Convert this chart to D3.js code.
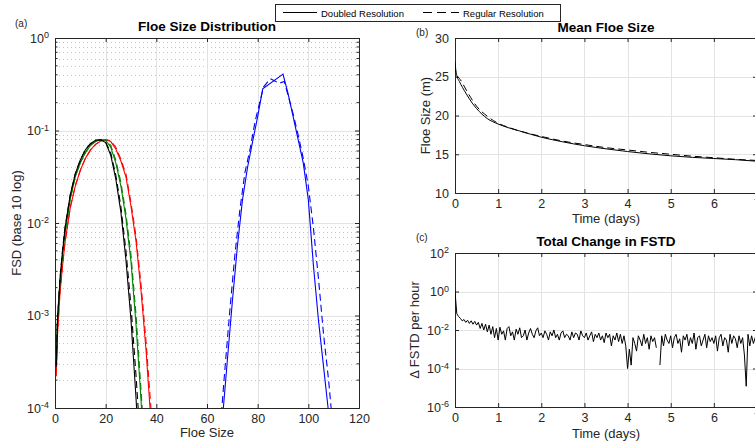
<!DOCTYPE html>
<html>
<head>
<meta charset="utf-8">
<script src="https://cdn.jsdelivr.net/npm/d3@7"></script>
<style>
  body { margin: 0; background: #fff; }
  svg { font-family: "Liberation Sans", Arial, sans-serif; }
</style>
</head>
<body>
<div id="chart"></div>
<script>
// ---- panel (a): floe size distribution ----
var sizeSmall = [0.5, 1, 2, 3, 4, 6, 8, 10, 12, 14, 16, 18, 20, 22, 24, 26, 28, 30, 32, 34, 36, 38, 40];
var fsdBlack = [2.8e-4, 8.9e-4, 2.5e-3, 5.0e-3, 8.9e-3, 0.020, 0.034, 0.048, 0.062, 0.072, 0.0785, 0.0794, 0.074, 0.054, 0.030, 0.0132, 0.0040, 8.9e-4, 1.26e-4, 1.3e-5, null, null, null];
var fsdBlackReg = [3.0e-4, 9.5e-4, 2.6e-3, 5.2e-3, 9.1e-3, 0.020, 0.034, 0.048, 0.062, 0.072, 0.0785, 0.0794, 0.075, 0.0575, 0.033, 0.0151, 0.0050, 1.26e-3, 2.2e-4, 3.2e-5, null, null, null];
var fsdGreen = [3.2e-4, 8.9e-4, 2.3e-3, 4.6e-3, 7.9e-3, 0.018, 0.0316, 0.0447, 0.0575, 0.069, 0.0759, 0.0794, 0.0785, 0.066, 0.0447, 0.0251, 0.0112, 3.8e-3, 7.9e-4, 1.17e-4, 1.26e-5, null, null];
var fsdGreenReg = [3.3e-4, 9.1e-4, 2.4e-3, 4.7e-3, 8.1e-3, 0.0182, 0.032, 0.045, 0.058, 0.0695, 0.076, 0.0794, 0.079, 0.069, 0.0479, 0.0275, 0.0126, 4.5e-3, 1.0e-3, 1.5e-4, 2.0e-5, null, null];
var fsdRed = [2.2e-4, 6.3e-4, 1.8e-3, 3.5e-3, 6.3e-3, 0.0145, 0.0251, 0.0372, 0.050, 0.0617, 0.0708, 0.0767, 0.0794, 0.0759, 0.063, 0.0468, 0.0316, 0.0151, 6.3e-3, 1.8e-3, 4.0e-4, 6.3e-5, 1.0e-5];
var fsdRedReg = [2.5e-4, 6.6e-4, 1.85e-3, 3.6e-3, 6.4e-3, 0.0146, 0.0252, 0.0372, 0.050, 0.0617, 0.0708, 0.0767, 0.0794, 0.0776, 0.066, 0.049, 0.0339, 0.0166, 7.1e-3, 2.1e-3, 5.0e-4, 8.9e-5, 1.26e-5];

var sizeBlue = [66, 68, 70, 72, 74, 76, 78, 80, 82, 90, 92, 94, 96, 98, 100, 102, 104, 106, 108];
var fsdBlue = [7.1e-5, 3.2e-4, 1.41e-3, 5.6e-3, 0.0178, 0.0398, 0.0759, 0.141, 0.282, 0.407, 0.251, 0.141, 0.0794, 0.0447, 0.0178, 3.5e-3, 8.9e-4, 2.8e-4, 8.9e-5];
var sizeBlueReg = [65, 67, 69, 71, 73, 75, 77, 79, 82.3, 85, 88.5, 90.5, 92, 94, 96, 98, 100, 102, 104, 106, 108, 110];
var fsdBlueReg = [5.0e-5, 2.5e-4, 1.12e-3, 4.5e-3, 0.0141, 0.0355, 0.063, 0.126, 0.295, 0.363, 0.324, 0.339, 0.240, 0.151, 0.0891, 0.0501, 0.0251, 8.9e-3, 2.5e-3, 6.3e-4, 2.0e-4, 5.0e-5];

// ---- panel (b): mean floe size ----
var timeMean = [0, 0.02, 0.05, 0.1, 0.25, 0.4, 0.5, 0.75, 1, 1.25, 1.5, 2, 2.5, 3, 3.5, 4, 4.5, 5, 5.5, 6, 6.5, 7];
var meanDoubled = [27, 25.8, 25.0, 24.4, 22.9, 21.6, 20.9, 19.6, 18.9, 18.4, 18.0, 17.2, 16.6, 16.1, 15.7, 15.35, 15.05, 14.8, 14.6, 14.45, 14.3, 14.1];
var meanRegular = [26.5, 25.5, 25.1, 24.8, 23.4, 22.0, 21.2, 19.9, 19.0, 18.45, 18.0, 17.3, 16.7, 16.25, 15.85, 15.55, 15.25, 15.0, 14.75, 14.55, 14.35, 14.2];

// ---- panel (c): hourly total change in FSTD (null = not drawn) ----
var fstdChange = [
  1.0, 0.07, 0.05, 0.04, 0.03, 0.035, 0.025, 0.032, 0.022, 0.03, 0.02, 0.028, 0.018, 0.025, 0.012, 0.022, 0.01, 0.02, 0.008, 0.018, 0.006, 0.015, 0.004, 0.012,
  0.003, 0.014, 0.006, 0.009, 0.003, 0.012, 0.015, 0.005, 0.008, 0.003, 0.011, 0.006, 0.013, 0.004, 0.005, 0.01, 0.003, 0.007, 0.012, 0.006, 0.004, 0.009, 0.013, 0.005,
  0.007, 0.004, 0.009, 0.006, 0.003, 0.008, 0.005, 0.01, 0.004, 0.006, 0.003, 0.007, 0.009, 0.004, 0.006, 0.005, 0.003, 0.008, 0.004, 0.007, 0.006, 0.003, 0.009, 0.005,
  0.004, 0.007, 0.003, 0.005, 0.008, 0.0025, 0.006, 0.004, 0.007, 0.003, 0.005, 0.0022, 0.007, 0.004, 0.006, 0.0015, 0.005, 0.003, 0.007, 0.0025, 0.006, 0.002, 0.005, 0.0015,
  1e-4, 0.001, 1.5e-4, 0.004, 0.002, 0.0008, 0.005, 0.003, 0.0015, 0.006, 0.002, 0.004, 0.001, 0.005, 0.0025, 0.004, 0.0012, null, 1.5e-4, 0.005, 0.0015, 0.006, 0.003, 0.002,
  0.005, 0.0012, 0.004, 0.006, 0.002, 0.0035, 0.0007, 0.005, 0.003, 0.006, 0.0015, 0.004, 0.002, 0.007, 0.001, 0.004, 0.005, 0.0015, 0.003, 0.006, 0.0012, 0.005, 0.0025, 0.004,
  0.002, 0.005, 0.0008, 0.004, 0.006, 0.0015, 0.004, 0.003, 0.0007, 0.006, 0.002, 0.005, 0.0035, 0.0012, 0.005, 0.002, 0.004, 0.0005, 1.2e-5, 0.006, 0.0015, 0.005, 0.002, 0.004, 0.003
];

var sizeTicks = [0, 20, 40, 60, 80, 100, 120];
var fsdTicks = [1e-4, 1e-3, 1e-2, 1e-1, 1];
var dayTicks = [0, 1, 2, 3, 4, 5, 6, 7];
var meanTicks = [10, 15, 20, 25, 30];
var changeTicks = [1e-6, 1e-4, 1e-2, 1, 100];

var width = 755;
var height = 443;
var axisColor = "#262626";
var gridColor = "#e3e3e3";

var svg = d3.select("#chart").append("svg")
  .attr("width", width)
  .attr("height", height);

/**
 * Draws the box, grid, inward ticks and labels of one MATLAB style axes
 */
function drawFrame(g, x, y, xTicks, yTicks, logY, minorY) {
  var x0 = x.range()[0], x1 = x.range()[1];
  var y0 = y.range()[0], y1 = y.range()[1];

  // minor dotted grid
  if (minorY) {
    g.append("g").selectAll("line")
      .data(minorY)
      .enter().append("line")
      .attr("x1", x0).attr("x2", x1)
      .attr("y1", d => Math.round(y(d)) + 0.5)
      .attr("y2", d => Math.round(y(d)) + 0.5)
      .attr("stroke", "#c4c4c4")
      .attr("stroke-dasharray", "1,3");
  }
  // major grid
  g.append("g").selectAll("line")
    .data(xTicks.slice(1, -1))
    .enter().append("line")
    .attr("x1", d => Math.round(x(d)) + 0.5).attr("x2", d => Math.round(x(d)) + 0.5)
    .attr("y1", y0).attr("y2", y1)
    .attr("stroke", gridColor);
  g.append("g").selectAll("line")
    .data(yTicks.slice(1, -1))
    .enter().append("line")
    .attr("x1", x0).attr("x2", x1)
    .attr("y1", d => Math.round(y(d)) + 0.5).attr("y2", d => Math.round(y(d)) + 0.5)
    .attr("stroke", gridColor);

  var bottom = g.append("g")
    .attr("transform", "translate(0," + y0 + ")")
    .call(d3.axisBottom(x).tickValues(xTicks).tickSize(-4).tickPadding(6).tickFormat(d3.format("d")));
  var top = g.append("g")
    .attr("transform", "translate(0," + y1 + ")")
    .call(d3.axisTop(x).tickValues(xTicks).tickSize(-4).tickFormat(""));
  var left = g.append("g")
    .attr("transform", "translate(" + x0 + ",0)")
    .call(d3.axisLeft(y).tickValues(yTicks).tickSize(-4).tickPadding(6));
  var right = g.append("g")
    .attr("transform", "translate(" + x1 + ",0)")
    .call(d3.axisRight(y).tickValues(yTicks).tickSize(-4).tickFormat(""));

  [bottom, top, left, right].forEach(function(a) {
    a.select(".domain").attr("stroke", axisColor);
    a.selectAll(".tick line").attr("stroke", axisColor);
    a.selectAll("text").attr("fill", axisColor).attr("font-size", 12.5)
      .attr("font-family", "Liberation Sans, Arial, sans-serif");
  });

  if (minorY) {
    [[x0, 1], [x1, -1]].forEach(function(s) {
      g.append("g").selectAll("line")
        .data(minorY)
        .enter().append("line")
        .attr("x1", s[0]).attr("x2", s[0] + s[1] * 2.5)
        .attr("y1", d => y(d)).attr("y2", d => y(d))
        .attr("stroke", axisColor);
    });
  }

  if (logY) {
    left.selectAll(".tick text").each(function(d) {
      var t = d3.select(this).text(null);
      t.append("tspan").text("10");
      t.append("tspan").attr("dy", "-0.5em").attr("font-size", "0.72em")
        .text(String(Math.round(Math.log10(d))));
    });
  }
}

function addClip(id, x, y) {
  svg.append("clipPath").attr("id", id).append("rect")
    .attr("x", x.range()[0]).attr("y", y.range()[1])
    .attr("width", x.range()[1] - x.range()[0])
    .attr("height", y.range()[0] - y.range()[1]);
}

function addText(txt, x, y, size, opts) {
  opts = opts || {};
  var t = svg.append("text")
    .attr("x", x).attr("y", y)
    .attr("font-size", size)
    .attr("fill", opts.fill || axisColor)
    .attr("text-anchor", opts.anchor || "middle")
    .attr("font-weight", opts.bold ? "bold" : null)
    .text(txt);
  if (opts.rotate) t.attr("transform", "rotate(-90," + x + "," + y + ")");
  return t;
}

// ---- panel (a) ----
var xA = d3.scaleLinear().domain([0, 120]).range([55, 359]);
var yA = d3.scaleLog().domain([1e-4, 1]).range([408, 38]);
var minorA = [];
[1e-4, 1e-3, 1e-2, 1e-1].forEach(function(dec) {
  for (var k = 2; k <= 9; k++) minorA.push(dec * k);
});
var gA = svg.append("g");
drawFrame(gA, xA, yA, sizeTicks, fsdTicks, true, minorA);
addClip("clipA", xA, yA);

var lineA = d3.line()
  .defined(d => d[1] != null)
  .x(d => xA(d[0]))
  .y(d => yA(d[1]));

var curvesA = [
  {xs: sizeSmall, ys: fsdRed, color: "#ff0000", dash: null},
  {xs: sizeSmall, ys: fsdRedReg, color: "#ff0000", dash: "7,4"},
  {xs: sizeSmall, ys: fsdGreen, color: "#008000", dash: null},
  {xs: sizeSmall, ys: fsdGreenReg, color: "#008000", dash: "7,4"},
  {xs: sizeSmall, ys: fsdBlack, color: "#000000", dash: null},
  {xs: sizeSmall, ys: fsdBlackReg, color: "#000000", dash: "7,4"},
  {xs: sizeBlue, ys: fsdBlue, color: "#0000ff", dash: null},
  {xs: sizeBlueReg, ys: fsdBlueReg, color: "#0000ff", dash: "7,4"}
];
var plotA = svg.append("g").attr("clip-path", "url(#clipA)");
plotA.selectAll("path")
  .data(curvesA)
  .enter().append("path")
  .attr("d", c => lineA(c.xs.map((v, i) => [v, c.ys[i]])))
  .attr("fill", "none")
  .attr("stroke", c => c.color)
  .attr("stroke-width", 1.1)
  .attr("stroke-dasharray", c => c.dash);

addText("Floe Size Distribution", 207, 31, 13.5, {bold: true, fill: "#000"});
addText("Floe Size", 207, 437, 13);
addText("FSD (base 10 log)", 21, 223, 13, {rotate: true});
addText("(a)", 15, 27, 10, {anchor: "start"});

// ---- panel (b) ----
var xB = d3.scaleLinear().domain([0, 7]).range([455, 757]);
var yB = d3.scaleLinear().domain([10, 30]).range([193, 38]);
var gB = svg.append("g");
drawFrame(gB, xB, yB, dayTicks, meanTicks, false, null);
addClip("clipB", xB, yB);

var lineB = d3.line()
  .x((d, i) => xB(timeMean[i]))
  .y(d => yB(d))
  .curve(d3.curveMonotoneX);
var plotB = svg.append("g").attr("clip-path", "url(#clipB)");
plotB.append("path")
  .attr("d", lineB(meanRegular))
  .attr("fill", "none").attr("stroke", "#000").attr("stroke-width", 1)
  .attr("stroke-dasharray", "7,4");
plotB.append("path")
  .attr("d", lineB(meanDoubled))
  .attr("fill", "none").attr("stroke", "#000").attr("stroke-width", 1);

addText("Mean Floe Size", 606, 32, 13.5, {bold: true, fill: "#000"});
addText("Time (days)", 606, 223, 13);
addText("Floe Size (m)", 430, 115.5, 13, {rotate: true});
addText("(b)", 416, 36, 10, {anchor: "start"});

// ---- panel (c) ----
var xC = d3.scaleLinear().domain([0, 7]).range([455, 757]);
var yC = d3.scaleLog().domain([1e-6, 100]).range([407, 253]);
var gC = svg.append("g");
drawFrame(gC, xC, yC, dayTicks, changeTicks, true, null);
addClip("clipC", xC, yC);

var lineC = d3.line()
  .defined(d => d != null)
  .x((d, i) => xC(i / 24))
  .y(d => yC(d));
svg.append("g").attr("clip-path", "url(#clipC)")
  .append("path")
  .attr("d", lineC(fstdChange))
  .attr("fill", "none").attr("stroke", "#000").attr("stroke-width", 1);

addText("Total Change in FSTD", 606, 246, 13.5, {bold: true, fill: "#000"});
addText("Time (days)", 606, 438, 13);
addText("\u0394 FSTD per hour", 419, 330, 13, {rotate: true});
addText("(c)", 416, 241, 10, {anchor: "start"});

// ---- legend ----
var legend = svg.append("g");
legend.append("rect")
  .attr("x", 275.5).attr("y", 4.5).attr("width", 285).attr("height", 17)
  .attr("fill", "#fff").attr("stroke", axisColor);
legend.append("line")
  .attr("x1", 283).attr("x2", 317).attr("y1", 12.5).attr("y2", 12.5)
  .attr("stroke", "#000");
legend.append("text").attr("x", 321).attr("y", 16.5).attr("font-size", 9.5)
  .attr("fill", "#000").text("Doubled Resolution");
legend.append("line")
  .attr("x1", 423).attr("x2", 459).attr("y1", 12.5).attr("y2", 12.5)
  .attr("stroke", "#000").attr("stroke-dasharray", "9,5");
legend.append("text").attr("x", 463).attr("y", 16.5).attr("font-size", 9.5)
  .attr("fill", "#000").text("Regular Resolution");
</script>
</body>
</html>
